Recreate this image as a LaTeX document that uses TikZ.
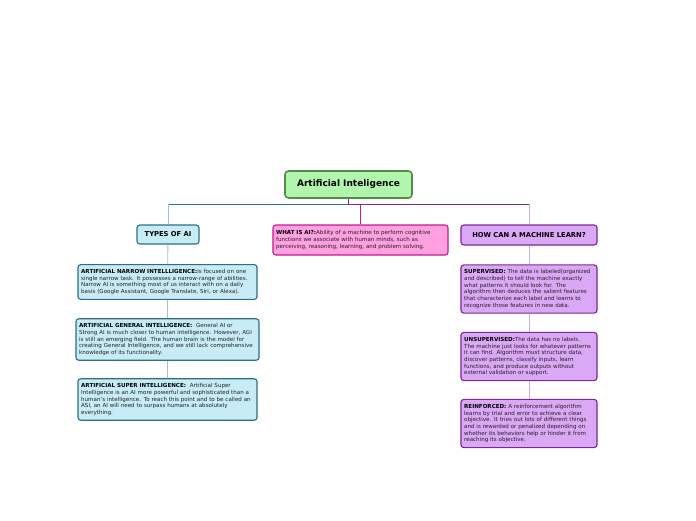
\documentclass[tikz,border=0pt]{standalone}
\usepackage{fontspec}
\setmainfont{DejaVu Sans}
\usepackage{tikz}
\usetikzlibrary{positioning,calc}
\usepackage{xcolor}
\definecolor{aigreen}{RGB}{84,138,74}
\definecolor{aigreenfill}{RGB}{178,245,172}
\definecolor{aiteal}{RGB}{46,110,134}
\definecolor{aitealfill}{RGB}{199,236,246}
\definecolor{aitealline}{RGB}{160,192,210}
\definecolor{aipink}{RGB}{196,26,140}
\definecolor{aipinkfill}{RGB}{255,160,224}
\definecolor{aipurple}{RGB}{122,40,150}
\definecolor{aipurplefill}{RGB}{218,168,245}
\definecolor{aipurpleline}{RGB}{200,170,225}
\definecolor{aitext}{RGB}{35,35,35}
\tikzset{
    rootblk/.style={rectangle, draw=#1, fill=#1fill, line width=1.1pt, rounded corners=2.5pt,
                    minimum width=3.175cm, minimum height=0.675cm, align=center,
                    font=\fontsize{6.4}{7.5}\selectfont\bfseries},
    headblk/.style={rectangle, draw=#1, fill=#1fill, line width=0.8pt, rounded corners=2pt,
                    minimum height=0.5cm, align=center, inner xsep=0.1cm,
                    font=\fontsize{4.8}{5.5}\selectfont\bfseries},
    txtblk/.style={rectangle, draw=#1, fill=#1fill, line width=0.8pt, rounded corners=2pt,
                   align=left, inner xsep=0.08cm, text=aitext,
                   font=\fontsize{3.95}{4.75}\selectfont},
    bus/.style={line width=0.6pt, #1},
}
\begin{document}
\begin{tikzpicture}[x=0.025cm, y=-0.025cm]
    \useasboundingbox (0,0) rectangle (696,520);
    % centre
    \node[rootblk=aigreen] (root) at (348.5,184.5) {Artificial Inteligence};
    % three branches
    \node[headblk=aiteal, minimum width=1.55cm, minimum height=0.475cm] (types) at (168,234.5) {TYPES OF AI};
    \node[txtblk=aipink, text width=4.215cm, minimum height=0.75cm] (whatis) at (360.5,240) {%
        \textbf{\color{black}WHAT IS AI?:}Ability of a machine to perform cognitive\\
        functions we associate with human minds, such as\\
        perceiving, reasoning, learning, and problem solving.};
    \node[headblk=aipurple, minimum width=3.4cm] (learn) at (529,235) {HOW CAN A MACHINE LEARN?};
    % types of AI
    \node[txtblk=aiteal, text width=4.315cm, minimum height=0.8cm] (narrow) at (167.5,282) {%
        \textbf{\color{black}ARTIFICIAL NARROW INTELLLIGENCE:}is focused on one\\
        single narrow task. It possesses a narrow-range of abilities.\\
        Narrow AI is something most of us interact with on a daily\\
        basis (Google Assistant, Google Translate, Siri, or Alexa).};
    \node[txtblk=aiteal, text width=4.415cm, minimum height=0.975cm] (general) at (167.5,339.5) {%
        \textbf{\color{black}ARTIFICIAL GENERAL INTELLIGENCE:}~ General AI or\\
        Strong AI is much closer to human intelligence. However, AGI\\
        is still an emerging field. The human brain is the model for\\
        creating General Intelligence, and we still lack comprehensive\\
        knowledge of its functionality.};
    \node[txtblk=aiteal, text width=4.315cm, minimum height=0.975cm] (super) at (167.5,399.5) {%
        \textbf{\color{black}ARTIFICIAL SUPER INTELLIGENCE:}~ Artificial Super\\
        Intelligence is an AI more powerful and sophisticated than a\\
        human's intelligence. To reach this point and to be called an\\
        ASI, an AI will need to surpass humans at absolutely\\
        everything.};
    % ways to learn
    \node[txtblk=aipurple, text width=3.24cm, minimum height=1.15cm] (supervised) at (529,289) {%
        \textbf{\color{black}SUPERVISED:} The data is labeled(organized\\
        and described) to tell the machine exactly\\
        what patterns it should look for. The\\
        algorithm then deduces the salient features\\
        that characterize each label and learns to\\
        recognize those features in new data.};
    \node[txtblk=aipurple, text width=3.24cm, minimum height=1.125cm] (unsupervised) at (529,356.5) {%
        \textbf{\color{black}UNSUPERVISED:}The data has no labels.\\
        The machine just looks for whatever patterns\\
        it can find. Algorithm must structure data,\\
        discover patterns, classify inputs, learn\\
        functions, and produce outputs without\\
        external validation or support.};
    \node[txtblk=aipurple, text width=3.24cm, minimum height=1.125cm] (reinforced) at (529,423.5) {%
        \textbf{\color{black}REINFORCED:} A reinforcement algorithm\\
        learns by trial and error to achieve a clear\\
        objective. It tries out lots of different things\\
        and is rewarded or penalized depending on\\
        whether its behaviors help or hinder it from\\
        reaching its objective.};
    % connectors
    \coordinate (hub) at (348.5,204);
    \draw[bus=aipurple] (root.south) -- (hub);
    \draw[bus=aiteal] (hub) -- (hub -| types.north);
    \draw[bus=aitealline] (hub -| types.north) -- (types.north);
    \draw[bus=aipurple] (hub) -- (hub -| learn.north);
    \draw[bus=aipurpleline] (hub -| learn.north) -- (learn.north);
    \draw[bus=aipink] (hub -| whatis.north) -- (whatis.north);
    \draw[bus=aitealline] (types) -- (narrow) (narrow) -- (general) (general) -- (super);
    \draw[bus=aipurpleline] (learn) -- (supervised) (supervised) -- (unsupervised) (unsupervised) -- (reinforced);
\end{tikzpicture}
\end{document}
